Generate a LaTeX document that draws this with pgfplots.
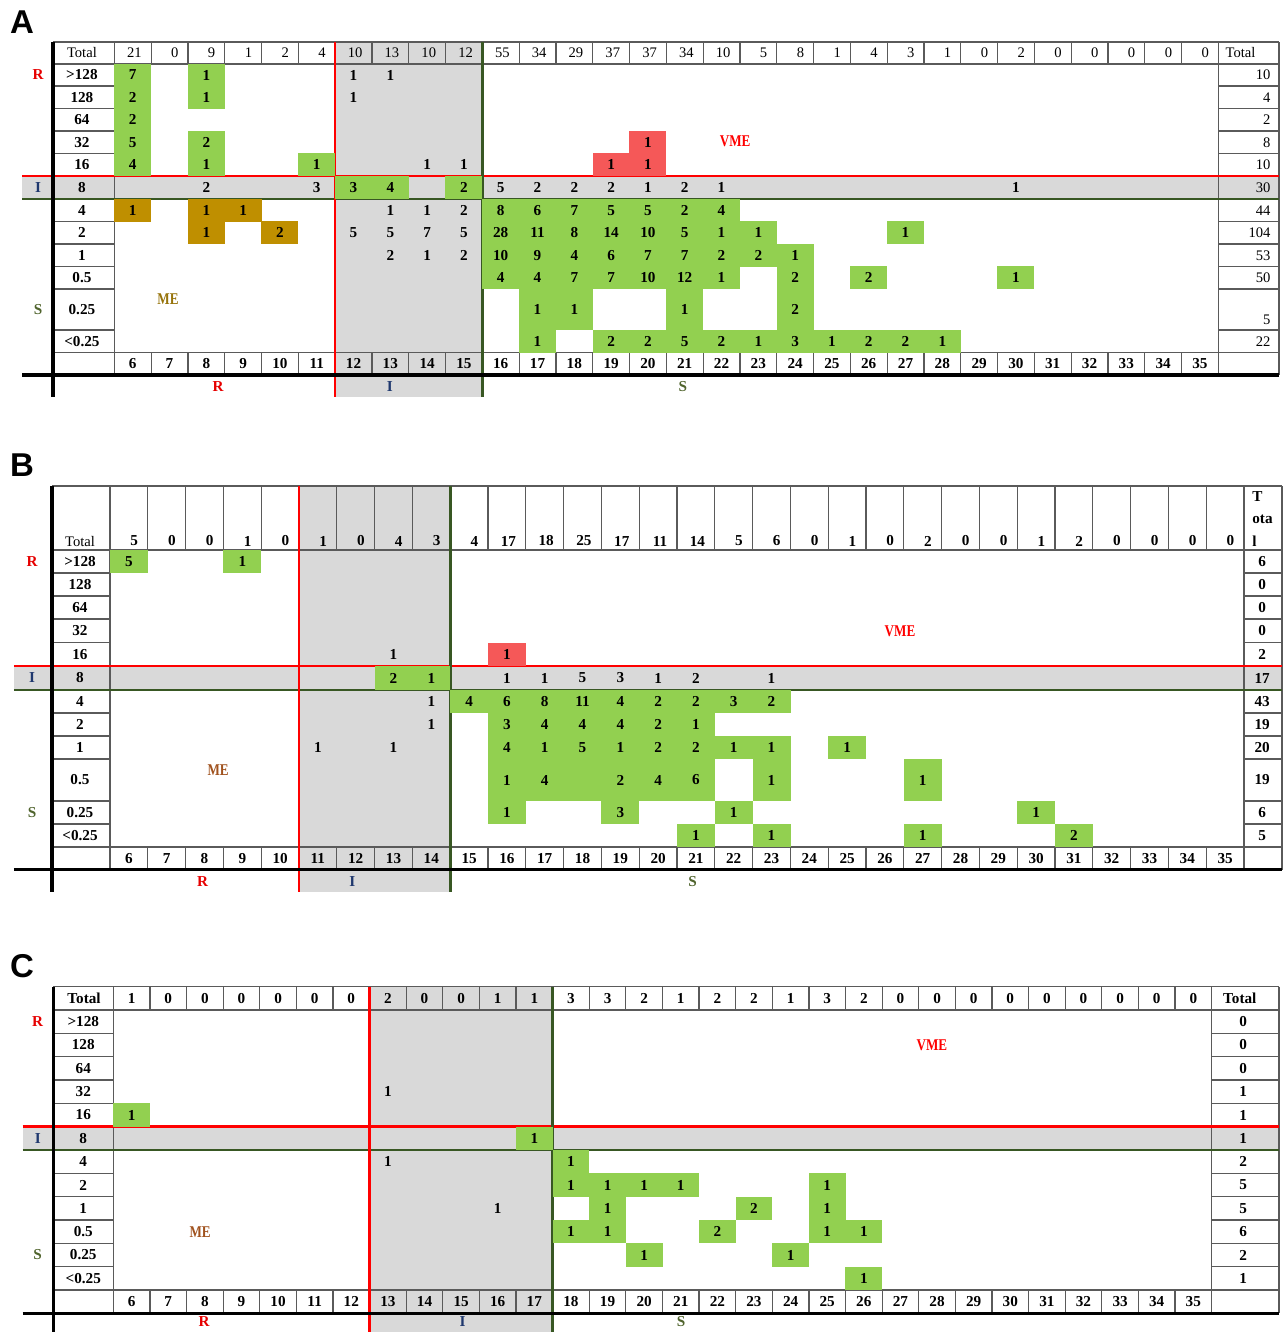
\documentclass[border=0pt]{standalone}
\usepackage{fontspec}
\setmainfont{Liberation Serif}
\newfontfamily\sansfam{Liberation Sans}
\usepackage{pgfplots}
\usepackage{pgfplotstable}
\pgfplotsset{compat=1.18}

\definecolor{cgreen}{RGB}{146,208,80}
\definecolor{cred}{RGB}{245,88,88}
\definecolor{cbrown}{RGB}{191,143,0}
\definecolor{cgray}{RGB}{217,217,217}
\definecolor{cgrid}{RGB}{90,90,90}
\definecolor{cdkgreen}{RGB}{56,87,35}
\definecolor{letR}{RGB}{230,0,0}
\definecolor{letI}{RGB}{31,56,110}
\definecolor{letS}{RGB}{80,100,45}
\definecolor{meA}{RGB}{150,115,10}
\definecolor{meB}{RGB}{160,82,30}

% cells of the grid, sized per panel (\cw, \ch, \cht set before each axis)
\newlength\cw \newlength\ch \newlength\cht
\pgfdeclareplotmark{gcell}{\pgfsetfillcolor{cgreen}%
  \pgfpathrectangle{\pgfpoint{-.5\cw}{-.5\ch}}{\pgfpoint{\cw}{\ch}}\pgfusepathqfill}
\pgfdeclareplotmark{gtall}{\pgfsetfillcolor{cgreen}%
  \pgfpathrectangle{\pgfpoint{-.5\cw}{-.5\cht}}{\pgfpoint{\cw}{\cht}}\pgfusepathqfill}
\pgfdeclareplotmark{rcell}{\pgfsetfillcolor{cred}%
  \pgfpathrectangle{\pgfpoint{-.5\cw}{-.5\ch}}{\pgfpoint{\cw}{\ch}}\pgfusepathqfill}
\pgfdeclareplotmark{bcell}{\pgfsetfillcolor{cbrown}%
  \pgfpathrectangle{\pgfpoint{-.5\cw}{-.5\ch}}{\pgfpoint{\cw}{\ch}}\pgfusepathqfill}

\newcommand\bnum{\fontsize{7.6}{8}\selectfont\bfseries}
\newcommand\rnum{\fontsize{7.3}{8}\selectfont}
\newcommand\mefont{\fontsize{8.2}{9}\selectfont\bfseries}
\newcommand\panelfont{\sansfam\fontsize{16.5}{17}\selectfont\bfseries}

\tikzset{
  gridl/.style={draw=cgrid, line width=0.6pt},
  blackl/.style={draw=black, line width=1.6pt},
  redl/.style={draw=red, line width=1.3pt},
  greenl/.style={draw=cdkgreen, line width=1.3pt},
  lab/.style={font=\bnum, inner sep=0pt},
}
% class column c: 0 plain, 1 green, 2 green (tall row), 3 red, 4 brown
\pgfplotsset{
  panel/.style={scale only axis, hide axis, clip=false,
    y dir=reverse, y=0.5pt, anchor=north west},
  cells/.style 2 args={only marks, mark=#1, draw=none,
    restrict expr to domain={\thisrow{c}}{#2:#2}},
  txt/.style={only marks, mark=none, point meta=explicit symbolic,
    nodes near coords={\pgfplotspointmeta},
    every node near coord/.append style={anchor=#1, inner sep=0pt, font=\bnum}},
  txt/.default=center,
}

% frame of one panel; x in zone diameter, y in pixel rows from the panel top
\newcommand\drawgray{%
  \fill[cgray] (axis cs:\fxr,\fyT) rectangle (axis cs:\fxg,\fyS);
  \fill[cgray] (axis cs:\fxF,\fyIt) rectangle (axis cs:\fxR,\fyIb);}
\newcommand\drawframe[1]{%
  \draw[gridl] (axis cs:\fxL,\fyT) -- (axis cs:\fxR,\fyT);
  \draw[gridl] (axis cs:\fxL,\fyTb) -- (axis cs:\fxR,\fyTb);
  \draw[gridl] (axis cs:\fxL,\fyLt) -- (axis cs:\fxR,\fyLt);
  \pgfplotsinvokeforeach{#1}{%
    \draw[gridl] (axis cs:\fxL,##1) -- (axis cs:5.5,##1);
    \draw[gridl] (axis cs:35.5,##1) -- (axis cs:\fxR,##1);}
  \pgfplotsinvokeforeach{6.5,7.5,...,34.5}{%
    \draw[gridl] (axis cs:##1,\fyT) -- (axis cs:##1,\fyTb);
    \draw[gridl] (axis cs:##1,\fyLt) -- (axis cs:##1,\fyLb);}
  \draw[gridl] (axis cs:5.5,\fyT) -- (axis cs:5.5,\fyLb);
  \draw[gridl] (axis cs:35.5,\fyT) -- (axis cs:35.5,\fyLb);
  \draw[gridl] (axis cs:\fxR,\fyT) -- (axis cs:\fxR,\fyLb);
  \draw[redl] (axis cs:\fxF,\fyIt) -- (axis cs:\fxR,\fyIt);
  \draw[greenl] (axis cs:\fxF,\fyIb) -- (axis cs:\fxR,\fyIb);
  \draw[redl] (axis cs:\fxr,\fyT) -- (axis cs:\fxr,\fyS);
  \draw[greenl] (axis cs:\fxg,\fyT) -- (axis cs:\fxg,\fyS);
  \draw[blackl] (axis cs:\fxL,\fyT) -- (axis cs:\fxL,\fyS);
  \draw[blackl] (axis cs:\fxF,\fyLb) -- (axis cs:\fxR,\fyLb);}

%%%%%%%%%%%%%%%% panel A
\pgfplotstableread{
x y v c
6 75 7 1
8 75 1 1
12 75 1 0
13 75 1 0
6 97.25 2 1
8 97.25 1 1
12 97.25 1 0
6 119.75 2 1
6 142.25 5 1
8 142.25 2 1
20 142.25 1 3
6 164.75 4 1
8 164.75 1 1
11 164.75 1 1
14 164.75 1 0
15 164.75 1 0
19 164.75 1 3
20 164.75 1 3
8 187.5 2 0
11 187.5 3 0
12 187.5 3 1
13 187.5 4 1
15 187.5 2 1
16 187.5 5 0
17 187.5 2 0
18 187.5 2 0
19 187.5 2 0
20 187.5 1 0
21 187.5 2 0
22 187.5 1 0
30 187.5 1 0
6 210.25 1 4
8 210.25 1 4
9 210.25 1 4
13 210.25 1 0
14 210.25 1 0
15 210.25 2 0
16 210.25 8 1
17 210.25 6 1
18 210.25 7 1
19 210.25 5 1
20 210.25 5 1
21 210.25 2 1
22 210.25 4 1
8 232.75 1 4
10 232.75 2 4
12 232.75 5 0
13 232.75 5 0
14 232.75 7 0
15 232.75 5 0
16 232.75 28 1
17 232.75 11 1
18 232.75 8 1
19 232.75 14 1
20 232.75 10 1
21 232.75 5 1
22 232.75 1 1
23 232.75 1 1
27 232.75 1 1
13 255.25 2 0
14 255.25 1 0
15 255.25 2 0
16 255.25 10 1
17 255.25 9 1
18 255.25 4 1
19 255.25 6 1
20 255.25 7 1
21 255.25 7 1
22 255.25 2 1
23 255.25 2 1
24 255.25 1 1
16 277.75 4 1
17 277.75 4 1
18 277.75 7 1
19 277.75 7 1
20 277.75 10 1
21 277.75 12 1
22 277.75 1 1
24 277.75 2 1
26 277.75 2 1
30 277.75 1 1
17 309.5 1 2
18 309.5 1 2
21 309.5 1 2
24 309.5 2 2
17 341.25 1 1
19 341.25 2 1
20 341.25 2 1
21 341.25 5 1
22 341.25 2 1
23 341.25 1 1
24 341.25 3 1
25 341.25 1 1
26 341.25 2 1
27 341.25 2 1
28 341.25 1 1
}\cellsA
\pgfplotstableread{
x v
6 21
7 0
8 9
9 1
10 2
11 4
12 10
13 13
14 10
15 12
16 55
17 34
18 29
19 37
20 37
21 34
22 10
23 5
24 8
25 1
26 4
27 3
28 1
29 0
30 2
31 0
32 0
33 0
34 0
35 0
}\topA
\pgfplotstableread{
y l t yt
75 >128 10 75
97.25 128 4 97.25
119.75 64 2 119.75
142.25 32 8 142.25
164.75 16 10 164.75
187.5 8 30 187.5
210.25 4 44 210.25
232.75 2 104 232.75
255.25 1 53 255.25
277.75 0.5 50 277.75
309.5 0.25 5 320
341.25 <0.25 22 341.25
}\rowsA

%%%%%%%%%%%%%%%% panel B
\pgfplotstableread{
x y v c
6 561.5 5 1
9 561.5 1 1
13 654.25 1 0
16 654.25 1 3
13 678 2 1
14 678 1 1
16 678 1 0
17 678 1 0
18 678 5 0
19 678 3 0
20 678 1 0
21 678 2 0
23 678 1 0
14 701.5 1 0
15 701.5 4 1
16 701.5 6 1
17 701.5 8 1
18 701.5 11 1
19 701.5 4 1
20 701.5 2 1
21 701.5 2 1
22 701.5 3 1
23 701.5 2 1
14 724.5 1 0
16 724.5 3 1
17 724.5 4 1
18 724.5 4 1
19 724.5 4 1
20 724.5 2 1
21 724.5 1 1
11 747.5 1 0
13 747.5 1 0
16 747.5 4 1
17 747.5 1 1
18 747.5 5 1
19 747.5 1 1
20 747.5 2 1
21 747.5 2 1
22 747.5 1 1
23 747.5 1 1
25 747.5 1 1
16 780 1 2
17 780 4 2
18 780 {} 2
19 780 2 2
20 780 4 2
21 780 6 2
23 780 1 2
27 780 1 2
16 812.5 1 1
19 812.5 3 1
22 812.5 1 1
30 812.5 1 1
21 835.5 1 1
23 835.5 1 1
27 835.5 1 1
31 835.5 2 1
}\cellsB
\pgfplotstableread{
x v
6 5
7 0
8 0
9 1
10 0
11 1
12 0
13 4
14 3
15 4
16 17
17 18
18 25
19 17
20 11
21 14
22 5
23 6
24 0
25 1
26 0
27 2
28 0
29 0
30 1
31 2
32 0
33 0
34 0
35 0
}\topB
\pgfplotstableread{
y l t
561.5 >128 6
584.5 128 0
607.5 64 0
630.75 32 0
654.25 16 2
678 8 17
701.5 4 43
724.5 2 19
747.5 1 20
780 0.5 19
812.5 0.25 6
835.5 <0.25 5
}\rowsB

%%%%%%%%%%%%%%%% panel C (y from the top of panel C)
\pgfplotstableread{
x y v c
13 147.7 1 0
6 171 1 1
17 194.4 1 1
13 217.7 1 0
18 217.7 1 1
18 241 1 1
19 241 1 1
20 241 1 1
21 241 1 1
25 241 1 1
16 264.4 1 0
19 264.4 1 1
23 264.4 2 1
25 264.4 1 1
18 287.7 1 1
19 287.7 1 1
22 287.7 2 1
25 287.7 1 1
26 287.7 1 1
20 311 1 1
24 311 1 1
26 334.4 1 1
}\cellsC
\pgfplotstableread{
x v
6 1
7 0
8 0
9 0
10 0
11 0
12 0
13 2
14 0
15 0
16 1
17 1
18 3
19 3
20 2
21 1
22 2
23 2
24 1
25 3
26 2
27 0
28 0
29 0
30 0
31 0
32 0
33 0
34 0
35 0
}\topC
\pgfplotstableread{
y l t
77.7 >128 0
101 128 0
124.4 64 0
147.7 32 1
171 16 1
194.4 8 1
217.7 4 2
241 2 5
264.4 1 5
287.7 0.5 6
311 0.25 2
334.4 <0.25 1
}\rowsC

\begin{document}
\begin{tikzpicture}
\useasboundingbox (0,0) rectangle (641.5pt,-666pt);

%%%% A
\def\fxF{2.992}\def\fxL{3.834}\def\fxR{37.15}
\def\fyT{42}\def\fyTb{64}\def\fyLt{352.5}\def\fyLb{375}\def\fyS{397}
\def\fxr{11.5}\def\fxg{15.5}\def\fyIt{176}\def\fyIb{199}
\setlength\cw{18.5pt}\setlength\ch{11.35pt}\setlength\cht{20.75pt}
\begin{axis}[panel, at={(0pt,0pt)}, x=18.4pt,
  xmin=2.394, xmax=37.26, ymin=0, ymax=444]
\drawgray
\addplot[cells={gcell}{1}] table[x=x,y=y]{\cellsA};
\addplot[cells={gtall}{2}] table[x=x,y=y]{\cellsA};
\addplot[cells={rcell}{3}] table[x=x,y=y]{\cellsA};
\addplot[cells={bcell}{4}] table[x=x,y=y]{\cellsA};
\drawframe{86,108.5,131,153.5,221.5,244,266.5,289,330}
\addplot[txt] table[x=x,y=y,meta=v]{\cellsA};
\addplot[txt=east, every node near coord/.append style={font=\rnum}]
  table[x expr=\thisrow{x}+0.255, y expr=53, meta=v]{\topA};
\addplot[txt] table[x=x, y expr=363.75, meta=x]{\topA};
\addplot[txt] table[x expr=4.62, y=y, meta=l]{\rowsA};
\addplot[txt=east, every node near coord/.append style={font=\rnum}]
  table[x expr=36.93, y=yt, meta=t]{\rowsA};
\node[lab, font=\rnum] at (axis cs:4.62,53) {Total};
\node[lab, font=\rnum, anchor=west] at (axis cs:35.69,53) {Total};
\node[lab, text=letR] at (axis cs:3.427,75) {R};
\node[lab, text=letI] at (axis cs:3.427,187.5) {I};
\node[lab, text=letS] at (axis cs:3.427,309.5) {S};
\node[lab, text=letR] at (axis cs:8.32,386.5) {R};
\node[lab, text=letI] at (axis cs:12.99,386.5) {I};
\node[lab, text=letS] at (axis cs:20.95,386.5) {S};
\node[lab, font=\mefont, text=red] at (axis cs:22.37,141) {\scalebox{0.8}[1]{VME}};
\node[lab, font=\mefont, text=meA] at (axis cs:6.96,299) {\scalebox{0.8}[1]{ME}};
\node[lab, font=\panelfont] at (axis cs:2.992,22) {A};
\end{axis}

%%%% B
\def\fxF{2.96}\def\fxL{3.966}\def\fxR{36.505}
\def\fyT{486}\def\fyTb{550}\def\fyLt{847}\def\fyLb{869.5}\def\fyS{892}
\def\fxr{10.5}\def\fxg{14.5}\def\fyIt{666}\def\fyIb{690}
\setlength\cw{19pt}\setlength\ch{11.6pt}\setlength\cht{21.1pt}
\begin{axis}[panel, at={(0pt,-222pt)}, x=18.9pt,
  xmin=2.59, xmax=36.53, ymin=444, ymax=944]
\drawgray
\addplot[cells={gcell}{1}] table[x=x,y=y]{\cellsB};
\addplot[cells={gtall}{2}] table[x=x,y=y]{\cellsB};
\addplot[cells={rcell}{3}] table[x=x,y=y]{\cellsB};
\drawframe{573,596,619,642.5,713,736,759,801,824}
\addplot[txt] table[x=x,y=y,meta=v]{\cellsB};
\addplot[txt=east] table[x expr=\thisrow{x}+0.25, y expr=541, meta=v]{\topB};
\addplot[txt] table[x=x, y expr=858.25, meta=x]{\topB};
\addplot[txt] table[x expr=4.706, y=y, meta=l]{\rowsB};
\addplot[txt] table[x expr=35.98, y=y, meta=t]{\rowsB};
\node[lab, font=\rnum] at (axis cs:4.706,541) {Total};
\node[lab, anchor=west] at (axis cs:35.71,497) {T};
\node[lab, anchor=west] at (axis cs:35.71,519) {ota};
\node[lab, anchor=west] at (axis cs:35.71,541) {l};
\node[lab, text=letR] at (axis cs:3.437,561.5) {R};
\node[lab, text=letI] at (axis cs:3.437,678) {I};
\node[lab, text=letS] at (axis cs:3.437,812.5) {S};
\node[lab, text=letR] at (axis cs:7.95,881.5) {R};
\node[lab, text=letI] at (axis cs:11.91,881.5) {I};
\node[lab, text=letS] at (axis cs:20.91,881.5) {S};
\node[lab, font=\mefont, text=red] at (axis cs:26.40,631) {\scalebox{0.8}[1]{VME}};
\node[lab, font=\mefont, text=meB] at (axis cs:8.36,770) {\scalebox{0.8}[1]{ME}};
\node[lab, font=\panelfont] at (axis cs:3.172,465) {B};
\end{axis}

%%%% C
\def\fxF{3.025}\def\fxL{3.861}\def\fxR{37.34}
\def\fyT{42.7}\def\fyTb{66}\def\fyLt{346}\def\fyLb{369.3}\def\fyS{388}
\def\fxr{12.5}\def\fxg{17.5}\def\fyIt{182.7}\def\fyIb{206}
\setlength\cw{18.4pt}\setlength\ch{11.77pt}\setlength\cht{11.77pt}
\begin{axis}[panel, at={(0pt,-472pt)}, x=18.305pt,
  xmin=2.405, xmax=37.45, ymin=0, ymax=388]
\drawgray
\addplot[cells={gcell}{1}] table[x=x,y=y]{\cellsC};
\drawframe{89.4,112.7,136,159.4,229.3,252.7,276,299.3,322.7}
\addplot[txt] table[x=x,y=y,meta=v]{\cellsC};
\addplot[txt] table[x=x, y expr=54.3, meta=v]{\topC};
\addplot[txt] table[x=x, y expr=357.7, meta=x]{\topC};
\addplot[txt] table[x expr=4.68, y=y, meta=l]{\rowsC};
\addplot[txt] table[x expr=36.36, y=y, meta=t]{\rowsC};
\node[lab] at (axis cs:4.70,54.3) {Total};
\node[lab] at (axis cs:36.27,54.3) {Total};
\node[lab, text=letR] at (axis cs:3.435,77.7) {R};
\node[lab, text=letI] at (axis cs:3.435,194.4) {I};
\node[lab, text=letS] at (axis cs:3.435,311) {S};
\node[lab, text=letR] at (axis cs:7.98,378) {R};
\node[lab, text=letI] at (axis cs:15.04,378) {I};
\node[lab, text=letS] at (axis cs:21.01,378) {S};
\node[lab, font=\mefont, text=red] at (axis cs:27.86,101) {\scalebox{0.8}[1]{VME}};
\node[lab, font=\mefont, text=meB] at (axis cs:7.87,288) {\scalebox{0.8}[1]{ME}};
\node[lab, font=\panelfont] at (axis cs:3.006,22) {C};
\end{axis}
\end{tikzpicture}
\end{document}
